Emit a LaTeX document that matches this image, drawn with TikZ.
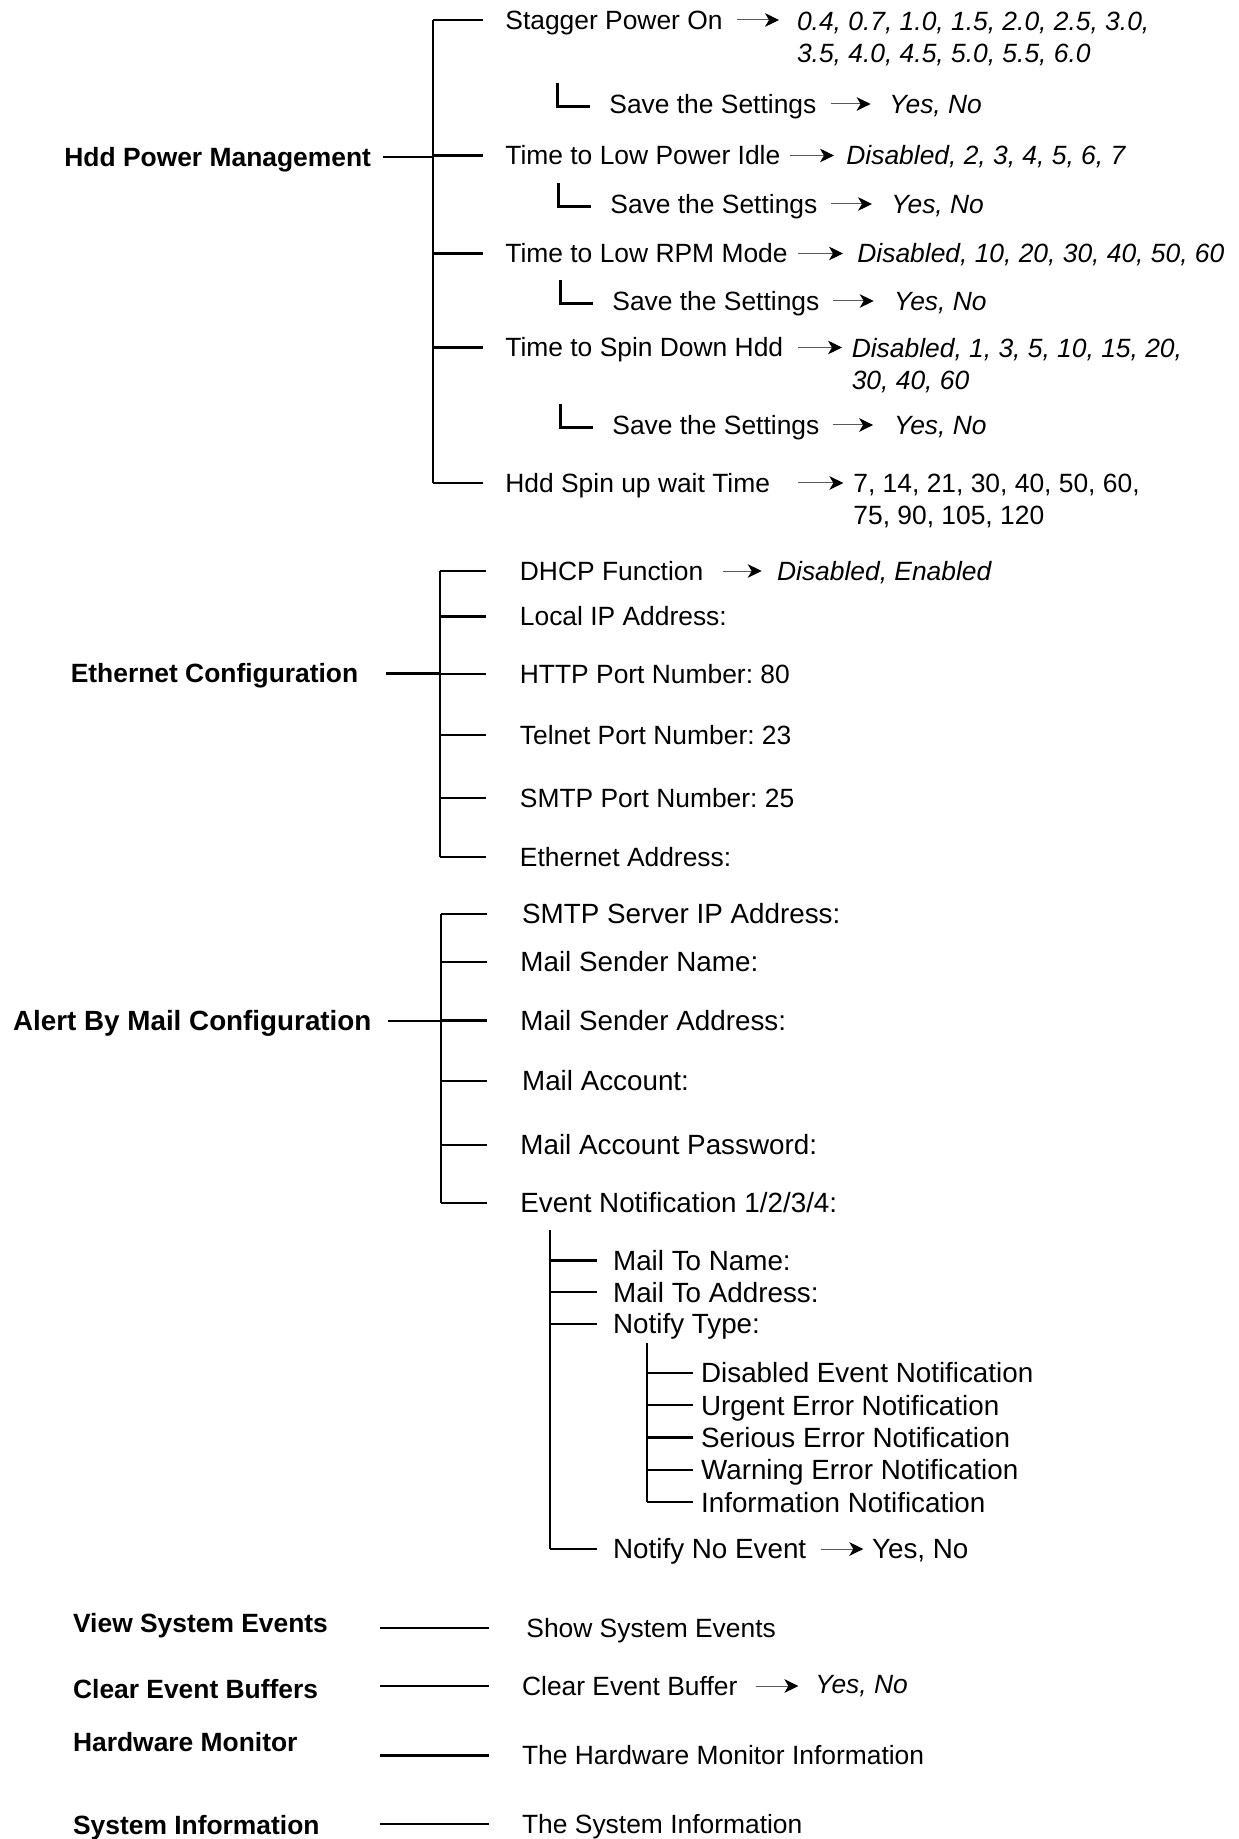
\documentclass[tikz,border=0pt]{standalone}
\usepackage{fontspec}
\setmainfont{Liberation Sans}
\usetikzlibrary{arrows.meta,positioning}

\newcommand{\smallsz}{\fontsize{13.2pt}{15.9pt}\selectfont}
\newcommand{\bigsz}{\fontsize{13.9pt}{16.6pt}\selectfont}
\frenchspacing

\tikzset{
  item/.style={anchor=west, inner sep=0pt, text height=9.45pt, text depth=0pt, font=\smallsz},
  ital/.style={item, font=\smallsz\itshape},
  head/.style={item, font=\smallsz\bfseries},
  itemL/.style={anchor=west, inner sep=0pt, text height=9.95pt, text depth=0pt, font=\bigsz},
  headL/.style={itemL, font=\bigsz\bfseries},
  vals/.style={anchor=north west, inner sep=0pt, align=left, font=\smallsz\itshape},
  tree/.style={line width=1.15pt},
  arr/.style={draw=black!65, line width=0.5pt, -{Stealth[length=7pt,width=6.8pt,inset=2pt,color=black]}},
}

\begin{document}
\begin{tikzpicture}[x=0.5pt, y=-0.5pt]
\useasboundingbox (0,0) rectangle (1238,1839);

% Hdd Power Management
\node[head] (hdd) at (64,157) {Hdd Power Management};
\node[item] (stag) at (505,20) {Stagger Power On};
\node[vals] (stagv) at (796.6,11.5) {0.4, 0.7, 1.0, 1.5, 2.0, 2.5, 3.0,\\3.5, 4.0, 4.5, 5.0, 5.5, 6.0};
\node[item] (save1) at (609,104) {Save the Settings};
\node[ital] (yes1) at (889,104) {Yes, No};
\node[item] (idle) at (505,155.5) {Time to Low Power Idle};
\node[ital] (idlev) at (846,155.5) {Disabled, 2, 3, 4, 5, 6, 7};
\node[item] (save2) at (610,204) {Save the Settings};
\node[ital] (yes2) at (891,204) {Yes, No};
\node[item] (rpm) at (505,253.5) {Time to Low RPM Mode};
\node[ital] (rpmv) at (857,253.5) {Disabled, 10, 20, 30, 40, 50, 60};
\node[item] (save3) at (612,301) {Save the Settings};
\node[ital] (yes3) at (893.7,301) {Yes, No};
\node[item] (down) at (505,347.5) {Time to Spin Down Hdd};
\node[vals] (downv) at (851.4,338) {Disabled, 1, 3, 5, 10, 15, 20,\\30, 40, 60};
\node[item] (save4) at (612,425) {Save the Settings};
\node[ital] (yes4) at (893.7,425) {Yes, No};
\node[item] (spin) at (505,483) {Hdd Spin up wait Time};
\node[vals, font=\smallsz] (spinv) at (853,473.5) {7, 14, 21, 30, 40, 50, 60,\\75, 90, 105, 120};

\coordinate (hddS) at (433,0);
\draw[tree] (hddS |- stag.west) -- (hddS |- spin.west);
\foreach \n in {stag,idle,rpm,down,spin}
  \draw[tree] (hddS |- \n.west) -- ([xshift=-11pt]\n.west);
\draw[tree] ([xshift=6pt]hdd.east) -- (hddS |- hdd.east);
\foreach \n in {save1,save2,save3,save4}
  \draw[tree] ([xshift=-25.7pt,yshift=10.5pt]\n.west) |- ([xshift=-9.7pt,yshift=-1.2pt]\n.west);
\foreach \a/\b/\s/\e in {stag/stagv/7/8.8, save1/yes1/7.2/9.2, idle/idlev/4.8/6, save2/yes2/6.7/9.5,
    rpm/rpmv/5/7, save3/yes3/6.5/10, down/downv/7/4.7, save4/yes4/6.5/10.3, spin/spinv/14/4.8}
  \draw[arr] ([xshift=\s pt]\a.east) -- ([xshift=-\e pt]\a.east -| \b.west);

% Ethernet Configuration
\node[head] (eth) at (70.4,673.5) {Ethernet Configuration};
\node[item] (dhcp) at (519.5,571) {DHCP Function};
\node[ital] (dhcpv) at (776.7,571) {Disabled, Enabled};
\node[item] (lip) at (519.5,616.5) {Local IP Address:};
\node[item] (http) at (519.5,674) {HTTP Port Number: 80};
\node[item] (tel) at (519.5,735) {Telnet Port Number: 23};
\node[item] (smtp) at (519.5,798) {SMTP Port Number: 25};
\node[item] (mac) at (519.5,857) {Ethernet Address:};

\coordinate (ethS) at (439.7,0);
\draw[tree] (ethS |- dhcp.west) -- (ethS |- mac.west);
\foreach \n in {dhcp,lip,http,tel,smtp,mac}
  \draw[tree] (ethS |- \n.west) -- ([xshift=-17pt]\n.west);
\draw[tree] ([xshift=13.7pt]eth.east) -- (ethS |- eth.east);
\draw[arr] ([xshift=9.5pt]dhcp.east) -- ([xshift=-7.5pt]dhcpv.west);

% Alert By Mail Configuration
\node[headL] (mail) at (12.7,1021) {Alert By Mail Configuration};
\node[itemL] (srv) at (521.7,914) {SMTP Server IP Address:};
\node[itemL] (sname) at (520,962) {Mail Sender Name:};
\node[itemL] (saddr) at (520,1020.5) {Mail Sender Address:};
\node[itemL] (acct) at (521.7,1081) {Mail Account:};
\node[itemL] (pwd) at (520,1145) {Mail Account Password:};
\node[itemL] (evt) at (520,1203) {Event Notification 1/2/3/4:};

\coordinate (mailS) at (441,0);
\draw[tree] (mailS |- srv.west) -- (mailS |- evt.west);
\foreach \n in {srv,sname,saddr,acct,pwd,evt}
  \draw[tree] (mailS |- \n.west) -- (487,0 |- \n.west);
\draw[tree] ([xshift=7.9pt]mail.east) -- (mailS |- mail.east);

\node[itemL] (mtn) at (612.7,1260.5) {Mail To Name:};
\node[itemL] (mta) at (612.7,1292.3) {Mail To Address:};
\node[itemL] (ntyp) at (612.7,1324) {Notify Type:};
\node[itemL] (nno) at (612.7,1549) {Notify No Event};
\node[itemL] (nnov) at (871.7,1549) {Yes, No};

\coordinate (evtS) at (550,1230);
\draw[tree] (evtS) -- (evtS |- nno.west);
\foreach \n in {mtn,mta,ntyp,nno}
  \draw[tree] (evtS |- \n.west) -- ([xshift=-8pt]\n.west);
\draw[arr] ([xshift=7.3pt]nno.east) -- ([xshift=-4.2pt]nnov.west);

\foreach \i/\t in {1/Disabled Event, 2/Urgent Error, 3/Serious Error, 4/Warning Error, 5/Information}
  \node[itemL] (t\i) at (700.7,{1340.3+32.4*\i}) {\t\ Notification};
\coordinate (typS) at (647.3,1343.3);
\draw[tree] (typS) -- (typS |- t5.west);
\foreach \i in {1,...,5}
  \draw[tree] (typS |- t\i.west) -- ([xshift=-3.7pt]t\i.west);

% single entries
\node[head] (view) at (72.7,1623.3) {View System Events};
\node[head] (clr) at (72.7,1689) {Clear Event Buffers};
\node[head] (hwm) at (72.7,1741.7) {Hardware Monitor};
\node[head] (sys) at (72.7,1825) {System Information};
\node[item] (show) at (526,1628.3) {Show System Events};
\node[item] (clrb) at (521.7,1686) {Clear Event Buffer};
\node[ital] (clrv) at (815,1684) {Yes, No};
\node[item] (hwi) at (521.7,1755.5) {The Hardware Monitor Information};
\node[item] (sysi) at (521.7,1824) {The System Information};

\coordinate (bL) at (380,0);
\coordinate (bR) at (489,0);
\foreach \n in {show,clrb,hwi,sysi}
  \draw[tree] (bL |- \n.west) -- (bR |- \n.west);
\draw[arr] ([xshift=9.2pt]clrb.east) -- ([xshift=-8.3pt]clrb.east -| clrv.west);
\end{tikzpicture}
\end{document}
